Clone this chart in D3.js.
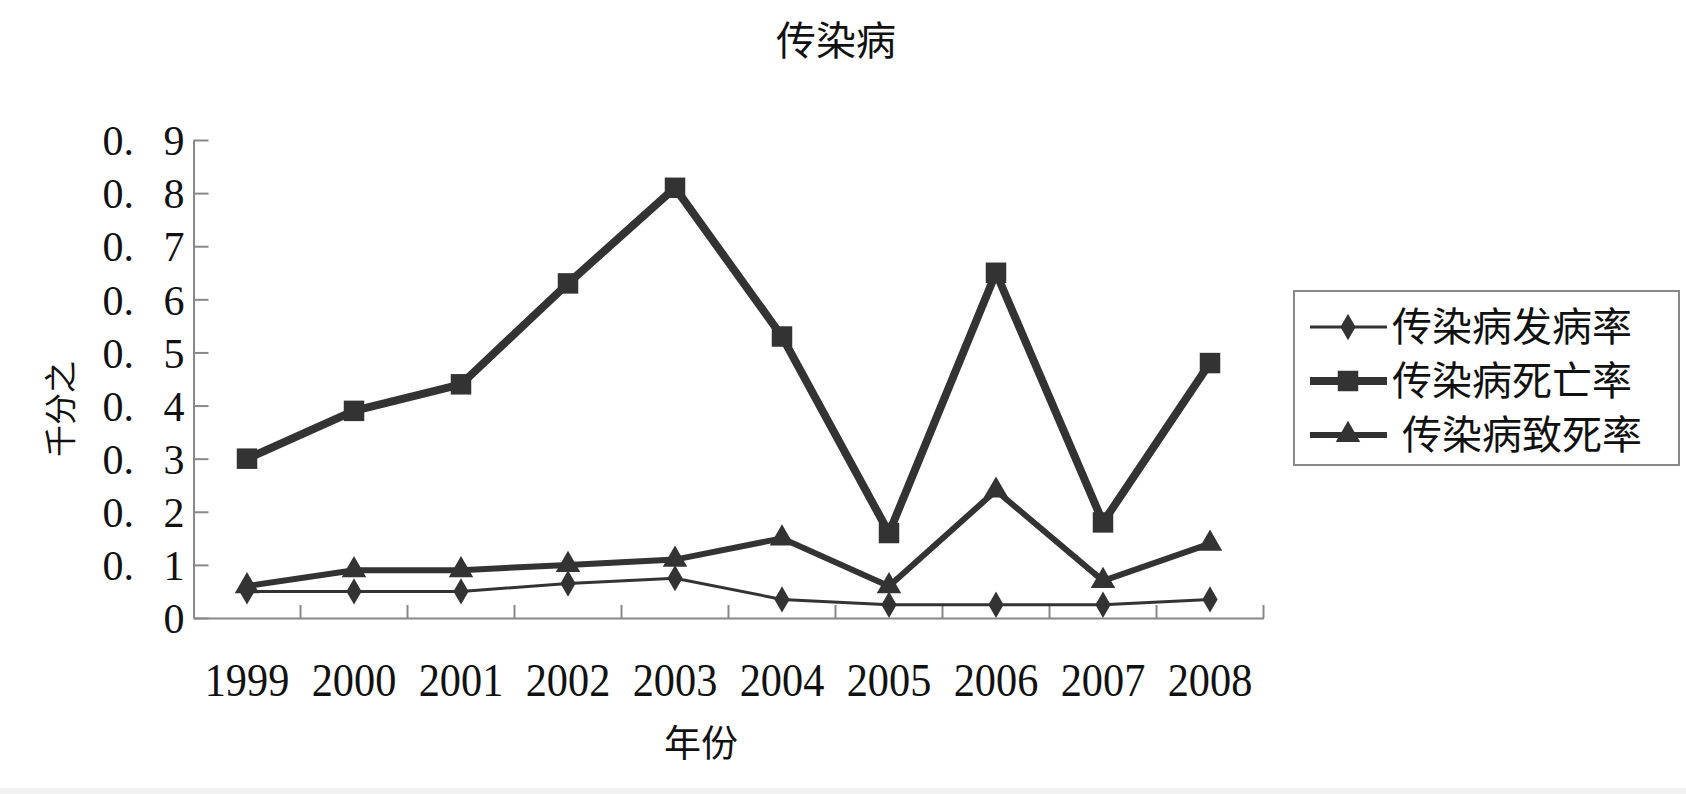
<!DOCTYPE html>
<html>
<head>
<meta charset="utf-8">
<script src="https://cdn.jsdelivr.net/npm/d3@7"></script>
<style>
  body { margin: 0; background: #fff; }
  text { fill: #111; }
</style>
</head>
<body>
<div id="chart"></div>
<script>
const years = ["1999", "2000", "2001", "2002", "2003", "2004", "2005", "2006", "2007", "2008"];
const incidence = [0.05, 0.05, 0.05, 0.065, 0.075, 0.035, 0.025, 0.025, 0.025, 0.035];
const mortality = [0.30, 0.39, 0.44, 0.63, 0.81, 0.53, 0.16, 0.65, 0.18, 0.48];
const fatality = [0.06, 0.09, 0.09, 0.10, 0.11, 0.15, 0.06, 0.24, 0.07, 0.14];
const yTicks = [0, 0.1, 0.2, 0.3, 0.4, 0.5, 0.6, 0.7, 0.8, 0.9];
const seriesNames = ["传染病发病率", "传染病死亡率", "传染病致死率"];

const width = 1686, height = 794;
const plotLeft = 193.5, plotRight = 1263.5, plotTop = 140, plotBottom = 618;
const ink = "#333";
const serif = "'Liberation Serif', 'DejaVu Serif', serif";
const cjk = "'Noto Sans CJK SC', sans-serif";

const svg = d3.select("#chart").append("svg")
    .attr("width", width)
    .attr("height", height);

// faint strip at the bottom edge of the scan
svg.append("rect")
    .attr("x", 0).attr("y", 788)
    .attr("width", width).attr("height", 6)
    .attr("fill", "#f2f2f2");

const x = d3.scaleBand().domain(years).range([plotLeft, plotRight]).padding(0);
const y = d3.scaleLinear().domain([0, 0.9]).range([plotBottom, plotTop]);
const cx = d => x(d) + x.bandwidth() / 2;

// y axis, ticks pointing inwards
const yAxis = d3.axisLeft(y)
    .tickValues(yTicks)
    .tickSizeInner(-15)
    .tickSizeOuter(0)
    .tickPadding(9)
    .tickFormat(d => d === 0 ? "0" : d3.format(".1f")(d).replace(".", ".\u2002\u2009"));

const gy = svg.append("g")
    .attr("transform", "translate(" + plotLeft + ",0)")
    .call(yAxis);
gy.select(".domain").attr("stroke", "#888").attr("stroke-width", 2);
gy.selectAll(".tick line").attr("stroke", "#888").attr("stroke-width", 2);
gy.selectAll(".tick text")
    .attr("font-family", serif)
    .attr("font-size", 42)
    .attr("fill", "#111")
    .style("white-space", "pre")
    .attr("dy", "0.35em");

// x axis: labels under categories, ticks between them
const xAxis = d3.axisBottom(x).tickSize(0).tickPadding(0);
const gx = svg.append("g")
    .attr("transform", "translate(0," + plotBottom + ")")
    .call(xAxis);
gx.select(".domain").attr("stroke", "#888").attr("stroke-width", 2);
gx.selectAll(".tick text")
    .attr("font-family", serif)
    .attr("font-size", 46)
    .attr("fill", "#111")
    .attr("y", 0)
    .attr("dy", 0)
    .attr("transform", "translate(0,78) scale(0.92,1)");

svg.append("g")
    .selectAll("line")
    .data(years)
    .join("line")
    .attr("x1", d => x(d) + x.bandwidth())
    .attr("x2", d => x(d) + x.bandwidth())
    .attr("y1", plotBottom)
    .attr("y2", plotBottom - 13)
    .attr("stroke", "#888")
    .attr("stroke-width", 2);

// titles
svg.append("text")
    .attr("x", 836).attr("y", 55)
    .attr("text-anchor", "middle")
    .attr("font-family", cjk)
    .attr("font-size", 40)
    .text("传染病");

svg.append("text")
    .attr("x", 701).attr("y", 757)
    .attr("text-anchor", "middle")
    .attr("font-family", cjk)
    .attr("font-size", 37)
    .text("年份");

svg.append("text")
    .attr("transform", "translate(72,409) rotate(-90)")
    .attr("text-anchor", "middle")
    .attr("font-family", cjk)
    .attr("font-size", 32)
    .text("千分之");

// series
const line = d3.line().x((d, i) => cx(years[i])).y(d => y(d));

const series = [
    {name: seriesNames[0], values: incidence, width: 3, symbol: d3.symbolDiamond, size: 200},
    {name: seriesNames[1], values: mortality, width: 8, symbol: d3.symbolSquare, size: 420},
    {name: seriesNames[2], values: fatality, width: 6, symbol: d3.symbolTriangle, size: 260}
];

// draw order: fatality, mortality, then the thin incidence line on top
[series[2], series[1], series[0]].forEach(s => {
    svg.append("path")
        .datum(s.values)
        .attr("fill", "none")
        .attr("stroke", ink)
        .attr("stroke-width", s.width)
        .attr("stroke-linejoin", "miter")
        .attr("d", line);
    svg.append("g")
        .selectAll("path")
        .data(s.values)
        .join("path")
        .attr("transform", (d, i) => "translate(" + cx(years[i]) + "," + y(d) + ")")
        .attr("d", d3.symbol().type(s.symbol).size(s.size))
        .attr("fill", ink);
});

// legend
const legend = svg.append("g");
legend.append("rect")
    .attr("x", 1294).attr("y", 291)
    .attr("width", 385).attr("height", 174)
    .attr("fill", "#fff")
    .attr("stroke", "#888")
    .attr("stroke-width", 2);

const legendY = d3.scalePoint().domain(seriesNames).range([327, 435]);
const legendIndent = [0, 0, 10];
series.forEach((s, i) => {
    const ly = legendY(s.name);
    legend.append("line")
        .attr("x1", 1310).attr("x2", 1387)
        .attr("y1", ly).attr("y2", ly)
        .attr("stroke", ink)
        .attr("stroke-width", s.width);
    legend.append("path")
        .attr("transform", "translate(1348," + ly + ")")
        .attr("d", d3.symbol().type(s.symbol).size(s.size))
        .attr("fill", ink);
    legend.append("text")
        .attr("x", 1392 + legendIndent[i]).attr("y", ly)
        .attr("dy", "0.36em")
        .attr("font-family", cjk)
        .attr("font-size", 40)
        .text(s.name);
});
</script>
</body>
</html>
